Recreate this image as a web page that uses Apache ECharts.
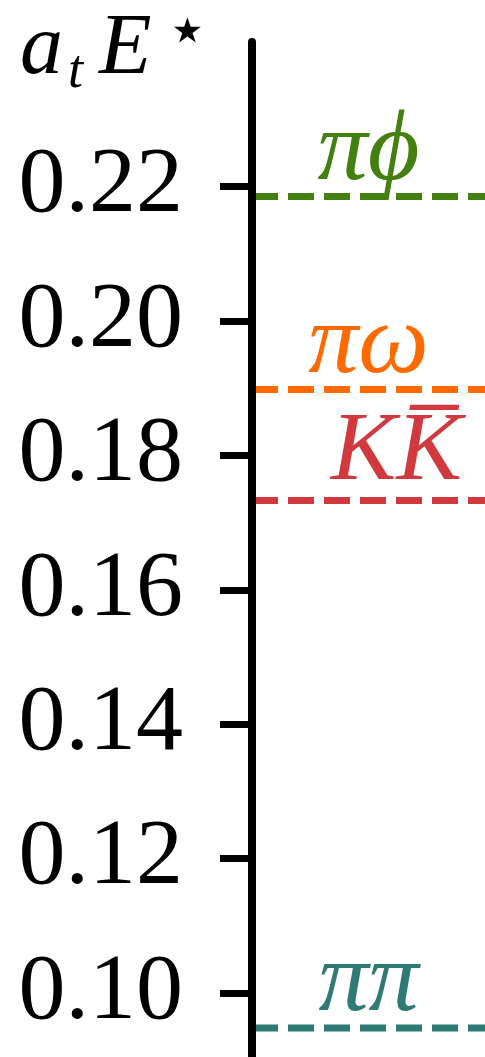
<!DOCTYPE html>
<html>
<head>
<meta charset="utf-8">
<script src="https://cdn.jsdelivr.net/npm/echarts@6/dist/echarts.min.js"></script>
<style>
html,body{margin:0;padding:0;background:#fff;}
#chart{width:485px;height:1057px;}
</style>
</head>
<body>
<div id="chart"></div>
<script>
// ---- data ----
const thresholdNames = ['πϕ', 'πω', 'KK\u0305', 'ππ'];
const thresholdEnergies = [0.2185, 0.1898, 0.1733, 0.0948];
const tickValues = [0.10, 0.12, 0.14, 0.16, 0.18, 0.20, 0.22];
const axisRange = [0.0905, 0.2415];

// ---- styles ----
const palette = ['#43800f', '#ff6a00', '#d0393d', '#2f7a74'];
const labelX = [0.5, 0.5, 0.62, 0.5];
const labelSize = [100, 100, 98, 100];
const labelDist = [-6, -6, -2, -6];
const serif = '"Liberation Serif", "DejaVu Serif", serif';

const chart = echarts.init(document.getElementById('chart'), null, {renderer: 'canvas'});

const series = [];
thresholdNames.forEach((name, i) => {
  series.push({
    type: 'line',
    name: name,
    data: [[0, thresholdEnergies[i]], [1, thresholdEnergies[i]]],
    symbol: 'none',
    silent: true,
    lineStyle: {color: palette[i], width: 7, type: [26, 10]},
    z: 2
  });
  series.push({
    type: 'scatter',
    data: [[labelX[i], thresholdEnergies[i]]],
    symbolSize: 0,
    silent: true,
    itemStyle: {opacity: 1},
    label: {
      show: true,
      position: 'top',
      distance: labelDist[i],
      opacity: 1,
      formatter: () => name,
      color: palette[i],
      fontFamily: serif,
      fontStyle: 'italic',
      fontWeight: 'normal',
      fontSize: labelSize[i]
    }
  });
});

const titleStyle = {fontFamily: serif, fontStyle: 'italic', fontWeight: 'normal', color: '#000', verticalAlign: 'top'};

chart.setOption({
  animation: false,
  backgroundColor: '#fff',
  title: {
    left: 20,
    top: -26,
    padding: 0,
    text: '{a|a}{t|t}{E|E}{s|⋆}',
    textStyle: {
      fontWeight: 'normal',
      rich: {
        a: Object.assign({}, titleStyle, {fontSize: 86, lineHeight: 86, padding: [33, 0, 0, 0]}),
        t: Object.assign({}, titleStyle, {fontSize: 54, lineHeight: 54, padding: [72, 16, 0, 5]}),
        E: Object.assign({}, titleStyle, {fontSize: 86, lineHeight: 86, padding: [33, 0, 0, 0]}),
        s: {fontFamily: '"DejaVu Sans", sans-serif', fontWeight: 'normal', fontSize: 70, lineHeight: 70, verticalAlign: 'top', color: '#000', padding: [26, 0, 0, 14]}
      }
    }
  },
  grid: {left: 252, right: 0, top: 42, bottom: 0, containLabel: false},
  xAxis: {type: 'value', min: 0, max: 1, show: false},
  yAxis: {
    type: 'value',
    min: axisRange[0],
    max: axisRange[1],
    z: 3,
    splitLine: {show: false},
    axisLine: {show: true, lineStyle: {color: '#000', width: 8}},
    axisTick: {show: true, length: 32, lineStyle: {color: '#000', width: 7}, customValues: tickValues},
    axisLabel: {
      show: true,
      margin: 69,
      color: '#000',
      fontFamily: serif,
      fontSize: 94,
      customValues: tickValues,
      formatter: v => v.toFixed(2)
    }
  },
  series: series
});
</script>
</body>
</html>
